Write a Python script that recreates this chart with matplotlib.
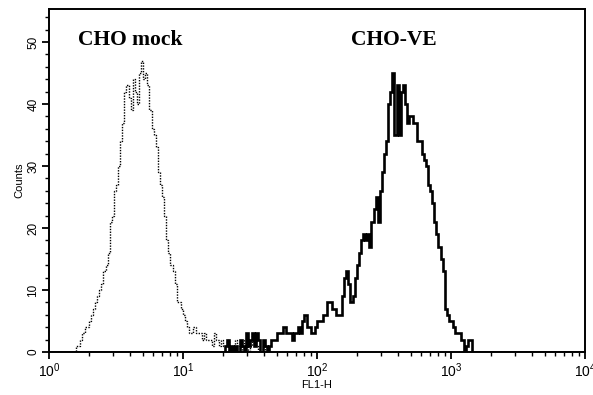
"""
Flow cytometry histogram: CHO mock vs CHO-VE (FL1-H, 256 log channels over 4 decades)
"""
import numpy as np
import matplotlib
matplotlib.use('Agg')
import matplotlib.pyplot as plt
from matplotlib.ticker import MultipleLocator, LogLocator, NullFormatter

plt.rcParams['font.family'] = ['Liberation Sans', 'DejaVu Sans']
plt.rcParams['mathtext.fontset'] = 'custom'
plt.rcParams['mathtext.rm'] = 'Liberation Sans'
plt.rcParams['mathtext.it'] = 'Liberation Sans:italic'
plt.rcParams['mathtext.bf'] = 'Liberation Sans:bold'

# ── data: counts per channel (256 channels, 4 decades) ──
N_CHANNELS = 256
DECADES = 4

MOCK_START = 12
mock_counts = [
    0, 1, 1, 2, 3, 4, 4, 5, 6, 7, 8, 9, 10, 11, 13, 14, 16, 21, 22, 26,
    27, 30, 34, 37, 42, 43, 41, 39, 44, 42, 40, 45, 47, 44, 45, 43, 39, 36, 35, 33,
    29, 27, 25, 22, 18, 16, 14, 13, 11, 8, 8, 7, 6, 5, 4, 3, 3, 4, 3, 3,
    3, 2, 3, 2, 2, 2, 1, 3, 2, 1, 2, 1, 1, 2, 0, 1, 1, 2, 1, 0,
    1, 2, 1, 0, 1, 3, 2, 1, 0, 0, 1, 0, 0, 0,
]

VE_START = 84
ve_counts = [
    1, 2, 0, 1, 0, 1, 0, 2, 1, 0, 3, 1, 2, 3, 1, 3, 2, 0, 2, 1,
    0, 1, 2, 2, 2, 3, 3, 3, 4, 3, 3, 3, 2, 3, 3, 4, 3, 5, 6, 4,
    4, 3, 3, 4, 5, 5, 5, 6, 6, 8, 8, 7, 7, 6, 6, 6, 9, 12, 13, 11,
    8, 9, 12, 14, 16, 18, 19, 18, 19, 17, 21, 23, 25, 21, 26, 29, 32, 34, 40, 42,
    45, 35, 43, 35, 42, 43, 40, 37, 38, 38, 37, 37, 34, 34, 32, 31, 30, 27, 26, 24,
    21, 19, 17, 15, 13, 7, 6, 5, 5, 4, 3, 3, 3, 2, 0, 1, 2, 2, 0, 0,
]

LABELS = ["CHO mock", "CHO-VE"]
Y_TICKS = [0, 10, 20, 30, 40, 50]


def full_histogram(start, counts):
    h = np.zeros(N_CHANNELS)
    h[start:start + len(counts)] = counts
    return h


edges = 10 ** (np.arange(N_CHANNELS + 1) * DECADES / N_CHANNELS)

fig = plt.figure(figsize=(5.93, 3.95), dpi=100)
ax = fig.add_axes([0.0826, 0.1089, 0.9039, 0.8681])

ax.stairs(full_histogram(MOCK_START, mock_counts), edges, color='black',
          linewidth=1.0, linestyle=(0, (1, 1)))
ax.stairs(full_histogram(VE_START, ve_counts), edges, color='black',
          linewidth=1.9)

ax.set_xscale('log')
ax.set_xlim(1, 1e4)
ax.set_ylim(0, 55.3)

ax.set_yticks(Y_TICKS)
ax.yaxis.set_minor_locator(MultipleLocator(2))
ax.xaxis.set_minor_locator(LogLocator(base=10, subs=np.arange(2, 10)))
ax.xaxis.set_minor_formatter(NullFormatter())

for lab in ax.get_yticklabels():
    lab.set_rotation(90)
    lab.set_va('center')
ax.tick_params(axis='y', which='major', labelsize=8.5, length=5, width=1.3, pad=2)
ax.tick_params(axis='y', which='minor', length=3, width=1.0)
ax.tick_params(axis='x', which='major', labelsize=10, length=5, width=1.3, pad=2)
ax.tick_params(axis='x', which='minor', length=3, width=1.0)

for s in ax.spines.values():
    s.set_linewidth(1.4)

ax.set_ylabel('Counts', fontsize=8, labelpad=2)
ax.set_xlabel('FL1-H', fontsize=8, labelpad=0)

txt = dict(fontsize=15.5, fontweight='bold', family='Liberation Serif',
           ha='center', va='center', transform=ax.transAxes)
ax.text(0.151, 0.91, LABELS[0], **txt)
ax.text(0.644, 0.91, LABELS[1], **txt)

plt.savefig('out.png', dpi=100, facecolor='white')
plt.close()
